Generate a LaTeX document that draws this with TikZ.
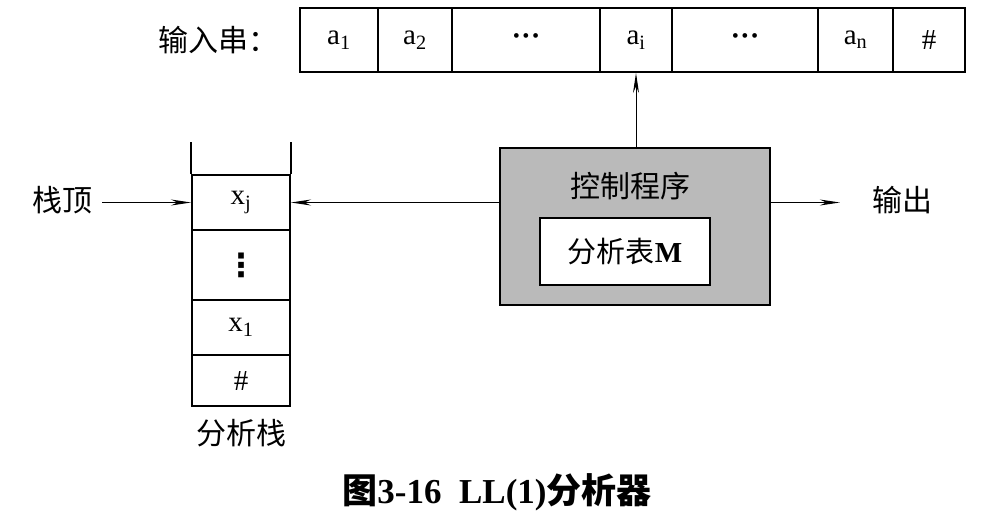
\documentclass[tikz,border=0pt]{standalone}
\usepackage{fontspec}
\setmainfont{Liberation Serif}
\newfontfamily\cjk{Noto Sans CJK SC}
\newfontfamily\sym{DejaVu Sans}
\usetikzlibrary{arrows.meta}

\begin{document}
\begin{tikzpicture}[x=1pt,y=-1pt,font=\fontsize{29}{31}\selectfont]
      \useasboundingbox(0,0) rectangle (995,517);
      \tikzset{C/.style = {draw,line width=2pt,inner sep=0pt,minimum height=64pt}}
      \tikzset{S/.style = {draw,line width=2pt,inner sep=0pt,minimum width=98pt,align=center}}
      \tikzset{L/.style = {inner sep=0pt,font=\fontsize{30}{32}\selectfont\cjk}}
      \tikzset{E/.style = {draw,line width=1pt,-{Stealth[length=20pt,width=6pt]}}}
      % input tape
      \node[L](in) at (218,40) {输入串：};
      \node[C,minimum width=78pt](a1) at (339,40) {a\textsubscript{1}};
      \node[C,minimum width=74pt](a2) at (415,40) {a\textsubscript{2}};
      \node[C,minimum width=148pt](d1) at (526,40) {\textbf{···}};
      \node[C,minimum width=72pt](ai) at (636,40) {a\textsubscript{i}};
      \node[C,minimum width=146pt](d2) at (745,40) {\textbf{···}};
      \node[C,minimum width=75pt](an) at (855.5,40) {a\textsubscript{n}};
      \node[C,minimum width=72pt](ae) at (929,40) {\#};
      % stack
      \node[S,minimum height=55pt](xj) at (241,202.5) {x\textsubscript{j}};
      \node[S,minimum height=70pt,font=\fontsize{32}{34}\selectfont\sym\bfseries](xd) at (241,265) {⋮};
      \node[S,minimum height=55pt](x1) at (241,327.5) {x\textsubscript{1}};
      \node[S,minimum height=51pt](xe) at (241,380.5) {\#};
      \node[L](stk) at (241,433) {分析栈};
      \draw[line width=2pt](xj.north west) -- +(0,-32);
      \draw[line width=2pt](xj.north east) -- +(0,-32);
      \node[L](top) at (62,200) {栈顶};
      % control
      \node[draw,line width=2.4pt,fill=black!27,minimum width=270pt,minimum height=157pt](ctrl) at (635,226.5) {};
      \node[L](prog) at (630,186) {控制程序};
      \node[draw,line width=2pt,fill=white,minimum width=170pt,minimum height=67pt,inner sep=0pt](tab) at (625,251.5) {{\cjk 分析表}\textbf{M}};
      \node[L](out) at (902,200) {输出};
      % arrows
      \draw[E,shorten <=10pt](top.east |- xj) -- (xj.west);
      \draw[E](ctrl.west |- xj) -- (xj.east);
      \draw[E](ctrl.north -| ai.south) -- (ai.south);
      \draw[E,shorten >=32pt](ctrl.east |- xj) -- (out.west |- xj);
      % caption
      \node[font=\fontsize{35}{37}\selectfont\bfseries](cap) at (497,492) {{\cjk 图}3-16\ \ LL(1){\cjk 分析器}};
\end{tikzpicture}
\end{document}
